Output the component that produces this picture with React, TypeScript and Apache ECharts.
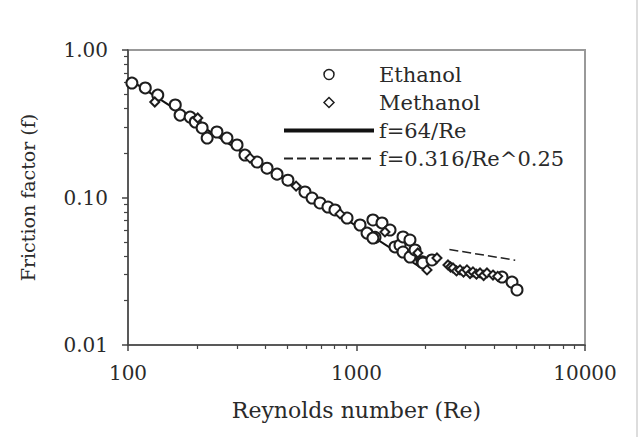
import React, { useEffect, useRef } from 'react';
import * as echarts from 'echarts';

// Ethanol (circles)
const ethanolRe = [104, 119, 135, 161, 169, 187, 197, 211, 222, 245, 271, 300, 325, 367, 406, 449, 501, 595, 639, 692, 750, 805, 909, 1036, 1112, 1180, 1205, 1180, 1293, 1402, 1474, 1550, 1598, 1598, 1714, 1754, 1714, 1803, 1937, 1954, 2140, 4334, 4792, 5040];
const ethanolF = [0.597, 0.553, 0.495, 0.424, 0.362, 0.351, 0.325, 0.296, 0.253, 0.278, 0.253, 0.227, 0.194, 0.174, 0.158, 0.144, 0.131, 0.109, 0.0992, 0.0918, 0.0862, 0.0823, 0.0726, 0.0651, 0.0574, 0.0704, 0.0537, 0.0531, 0.0672, 0.0602, 0.0462, 0.0475, 0.054, 0.0427, 0.0515, 0.0408, 0.0395, 0.0441, 0.0367, 0.036, 0.0377, 0.0289, 0.0267, 0.0236];

// Methanol (diamonds)
const methanolRe = [131, 202, 342, 544, 847, 1332, 1855, 2035, 2250, 2514, 2580, 2644, 2740, 2838, 2940, 3044, 3140, 3234, 3350, 3472, 3600, 3724, 3957, 4150];
const methanolF = [0.444, 0.346, 0.185, 0.1195, 0.0774, 0.0584, 0.0421, 0.0323, 0.0389, 0.0349, 0.0338, 0.0333, 0.0318, 0.0323, 0.0312, 0.0323, 0.0305, 0.0313, 0.0302, 0.0308, 0.0296, 0.0308, 0.0298, 0.0292];

// Reference lines (end points)
const laminarRe = [100, 2000];
const laminarF = [0.64, 0.032];
const blasiusRe = [2550, 4950];
const blasiusF = [0.0444, 0.0376];

// Ticks
const xMajorTicks = [100, 1000, 10000];
const xMinorTicks = [200, 300, 400, 500, 600, 700, 800, 900, 2000, 3000, 4000, 5000, 6000, 7000, 8000, 9000];
const yMajorTicks = [0.01, 0.1, 1];
const yMinorTicks = [0.02, 0.03, 0.04, 0.05, 0.06, 0.07, 0.08, 0.09, 0.2, 0.3, 0.4, 0.5, 0.6, 0.7, 0.8, 0.9];

const FONT = 'DejaVu Serif';
const TEXT = '#2a2a2a';
const AXIS = '#444';
const MARK = '#1e1e1e';

const zip = (a: number[], b: number[]) => a.map((v, i) => [v, b[i]]);

export default function App() {
  const ref = useRef<HTMLDivElement>(null);
  useEffect(() => {
    if (!ref.current) return;
    const chart = echarts.init(ref.current, undefined, { renderer: 'svg' });
    const minorAxisCommon = {
      axisLine: { show: false },
      axisLabel: { show: false },
      splitLine: { show: false },
      minorTick: { show: false },
    };
    const hiddenItem = { color: 'transparent', borderColor: 'transparent', borderWidth: 0 };
    chart.setOption({
      animation: false,
      backgroundColor: '#fff',
      grid: {
        left: 128, right: 58, top: 50, bottom: 92,
        show: true, borderColor: '#999', borderWidth: 2, backgroundColor: 'transparent',
        containLabel: false, outerBoundsMode: 'none',
      },
      legend: {
        orient: 'vertical', left: 282, top: 64, padding: 0,
        itemWidth: 90, itemHeight: 10, itemGap: 7,
        selectedMode: false,
        textStyle: { fontFamily: FONT, fontSize: 21, color: TEXT, lineHeight: 20 },
        data: [
          { name: 'Ethanol', icon: 'circle', itemStyle: { color: 'transparent', borderColor: MARK, borderWidth: 1.5, opacity: 1 } },
          { name: 'Methanol', icon: 'path://M5,0L10,5L5,10L0,5Z', itemStyle: { color: 'transparent', borderColor: MARK, borderWidth: 1.5, opacity: 1 } },
          { name: 'f=64/Re', lineStyle: { width: 4 }, itemStyle: hiddenItem },
          { name: 'f=0.316/Re^0.25', itemStyle: hiddenItem },
        ],
      },
      xAxis: [
        {
          type: 'log', logBase: 10, min: 100, max: 10000, position: 'bottom',
          axisLine: { show: true, onZero: false, lineStyle: { color: AXIS, width: 1.5 } },
          axisTick: { show: true, length: 6, customValues: xMajorTicks, lineStyle: { color: AXIS, width: 1.5 } },
          axisLabel: { customValues: xMajorTicks, formatter: (v: number) => String(Math.round(v)), margin: 18, fontFamily: FONT, fontSize: 20, color: TEXT },
          splitLine: { show: false },
          minorTick: { show: false },
          name: 'Reynolds number (Re)', nameLocation: 'middle', nameGap: 54,
          nameTextStyle: { fontFamily: FONT, fontSize: 22, color: TEXT },
        },
        {
          type: 'log', logBase: 10, min: 100, max: 10000, position: 'bottom',
          ...minorAxisCommon,
          axisTick: { show: true, length: 4, customValues: xMinorTicks, lineStyle: { color: AXIS, width: 1.2 } },
        },
      ],
      yAxis: [
        {
          type: 'log', logBase: 10, min: 0.01, max: 1, position: 'left',
          axisLine: { show: true, onZero: false, lineStyle: { color: AXIS, width: 1.5 } },
          axisTick: { show: true, length: 6, customValues: yMajorTicks, lineStyle: { color: AXIS, width: 1.5 } },
          axisLabel: { customValues: yMajorTicks, formatter: (v: number) => v.toFixed(2), margin: 20, fontFamily: FONT, fontSize: 20, color: TEXT },
          splitLine: { show: false },
          minorTick: { show: false },
          name: 'Friction factor (f)', nameLocation: 'middle', nameGap: 91, nameRotate: 90,
          nameTextStyle: { fontFamily: FONT, fontSize: 19, color: TEXT },
        },
        {
          type: 'log', logBase: 10, min: 0.01, max: 1, position: 'left',
          ...minorAxisCommon,
          axisTick: { show: true, length: 4, customValues: yMinorTicks, lineStyle: { color: AXIS, width: 1.2 } },
        },
      ],
      series: [
        {
          name: 'f=64/Re', type: 'line', xAxisIndex: 0, yAxisIndex: 0, z: 2,
          symbol: 'none', showSymbol: false,
          lineStyle: { color: '#111', width: 2, type: 'solid' },
          itemStyle: { color: '#111' },
          data: zip(laminarRe, laminarF),
        },
        {
          name: 'f=0.316/Re^0.25', type: 'line', xAxisIndex: 0, yAxisIndex: 0, z: 2,
          symbol: 'none', showSymbol: false,
          lineStyle: { color: '#222', width: 1.5, type: [9, 4] },
          itemStyle: { color: '#222' },
          data: zip(blasiusRe, blasiusF),
        },
        {
          name: 'Ethanol', type: 'scatter', xAxisIndex: 0, yAxisIndex: 0, z: 4,
          symbol: 'emptyCircle', symbolSize: 11,
          itemStyle: { color: MARK, borderWidth: 1.5, opacity: 1 },
          data: zip(ethanolRe, ethanolF),
        },
        {
          name: 'Methanol', type: 'scatter', xAxisIndex: 0, yAxisIndex: 0, z: 4,
          symbol: 'emptyDiamond', symbolSize: 9,
          itemStyle: { color: MARK, borderWidth: 1.4, opacity: 1 },
          data: zip(methanolRe, methanolF),
        },
      ],
      graphic: [
        { type: 'line', shape: { x1: 637, y1: 0, x2: 637, y2: 437 }, style: { stroke: '#ddd', lineWidth: 2 }, silent: true },
      ],
    });
    return () => chart.dispose();
  }, []);
  return <div ref={ref} style={{ position: 'absolute', left: 0, top: 0, width: 643, height: 437 }} />;
}
